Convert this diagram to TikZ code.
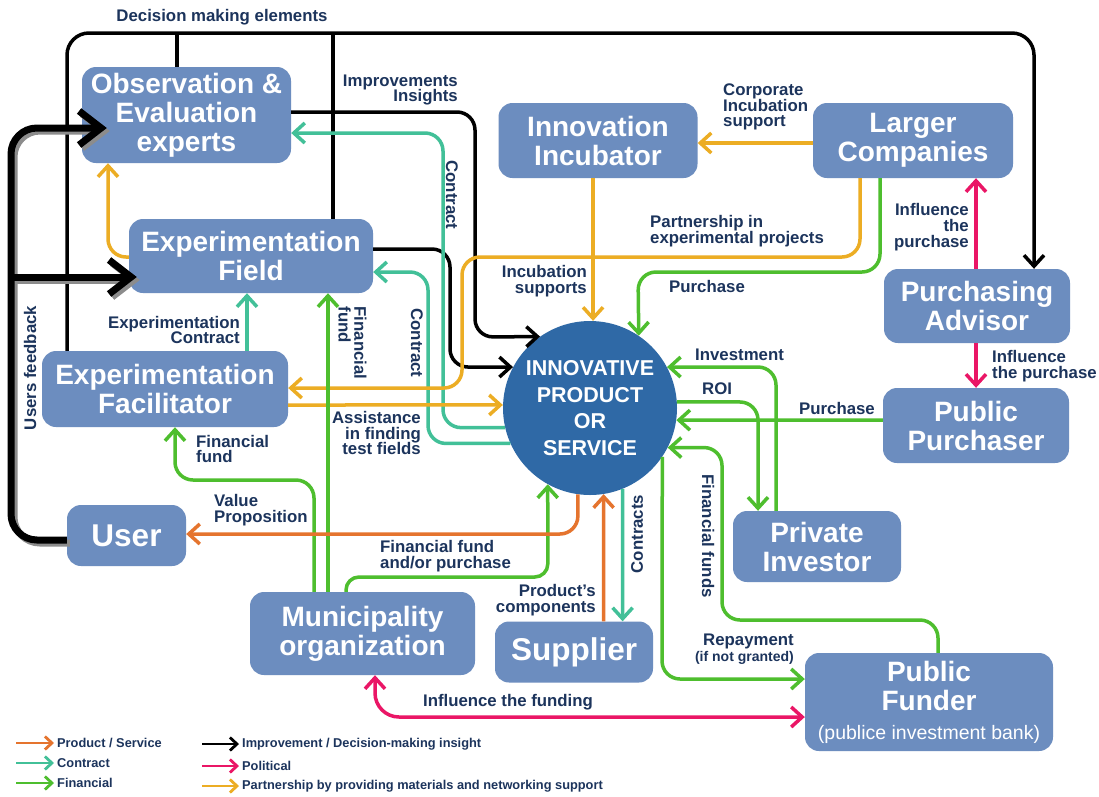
\documentclass[tikz,border=0pt]{standalone}
\usepackage{fontspec}
\setmainfont{Liberation Sans}
\usetikzlibrary{arrows.meta,calc}
\definecolor{boxblue}{RGB}{108,141,191}
\definecolor{circblue}{RGB}{47,105,166}
\definecolor{navy}{RGB}{28,52,92}
\definecolor{corange}{RGB}{229,116,46}
\definecolor{cteal}{RGB}{66,192,152}
\definecolor{cgreen}{RGB}{78,190,46}
\definecolor{cpink}{RGB}{234,22,102}
\definecolor{cyellow}{RGB}{236,173,36}
\definecolor{shadowgray}{RGB}{140,140,140}
\tikzset{
  ebox/.style={rectangle, rounded corners=14pt, fill=boxblue, text=white,
    font=\bfseries\fontsize{28}{29}\selectfont, align=center, inner sep=0pt},
  bigtxt/.style={font=\bfseries\fontsize{31.5}{32}\selectfont},
  lbl/.style={text=navy, font=\bfseries\fontsize{16.8}{15.8}\selectfont, inner sep=0pt},
  leg/.style={text=navy, font=\bfseries\fontsize{12.8}{13}\selectfont, inner sep=0pt},
  conn/.style={line width=3.5pt, rounded corners=18pt, -{Straight Barb[length=11pt,width=20pt]}},
  twoway/.style={line width=3.5pt, rounded corners=24pt, {Straight Barb[length=11pt,width=20pt]}-{Straight Barb[length=11pt,width=20pt]}},
  bline/.style={line width=3.5pt},
  thickarr/.style={line width=7pt, rounded corners=26pt, -{Straight Barb[length=22pt,width=34pt]}},
  legarr/.style={line width=2.8pt, -{Straight Barb[length=7pt,width=13pt]}}
}
\begin{document}
\begin{tikzpicture}[x=1pt,y=-1pt]
\fill[white] (0,0) rectangle (1099,796);
\useasboundingbox (0,0) rectangle (1099,796);

% ---------- nodes ----------
\node[ebox, minimum width=209pt, minimum height=96pt] (obs) at (186.5,115) {Observation \&\\Evaluation\\experts};
\node[ebox, minimum width=244pt, minimum height=74pt] (field) at (251,256) {Experimentation\\Field};
\node[ebox, minimum width=246pt, minimum height=76pt] (facil) at (165,389) {Experimentation\\Facilitator};
\node[ebox, bigtxt, minimum width=119pt, minimum height=61pt] (user) at (126.5,535.5) {User};
\node[ebox, minimum width=225pt, minimum height=83pt] (muni) at (362.5,633.5) {Municipality\\organization};
\node[ebox, bigtxt, minimum width=158pt, minimum height=61pt] (supp) at (574,652) {Supplier};
\node[ebox, minimum width=248pt, minimum height=98pt] (funder) at (929,702) {Public\\Funder\\{\mdseries\fontsize{19.5}{20}\selectfont(publice investment bank)}};
\node[ebox, minimum width=168pt, minimum height=71pt] (privinv) at (817,546.5) {Private\\Investor};
\node[ebox, minimum width=186pt, minimum height=75pt] (pubpur) at (976,425.5) {Public\\Purchaser};
\node[ebox, minimum width=186pt, minimum height=74pt] (advisor) at (977,306) {Purchasing\\Advisor};
\node[ebox, minimum width=200pt, minimum height=75pt] (larger) at (913,140.5) {Larger\\Companies};
\node[ebox, minimum width=199pt, minimum height=75pt] (incub) at (598,140.5) {Innovation\\Incubator};
\node[circle, fill=circblue, minimum size=174pt, inner sep=0pt, text=white, align=center,
  font=\bfseries\fontsize{21.5}{26.7}\selectfont] (ips) at (590,408) {INNOVATIVE\\PRODUCT\\OR\\SERVICE};

% ---------- black: decision making / improvements ----------
\draw[bline] (177,0 |- obs.north) -- (177,33);
\draw[bline] (333,0 |- field.north) -- (333,33);
\draw[conn, black, rounded corners=22pt] (67,0 |- facil.north) -- (67,33) -- (1034,33) -- (1034,0 |- advisor.north);
\draw[conn, black] (obs.east |- 0,112) -- (475,112) -- (475,337) -- (ips.125);
\draw[conn, black] (field.east |- 0,249) -- (450,249) -- (450,367) -- (ips.152);

% ---------- teal: contracts ----------
\draw[conn, cteal] (ips.193) -- (443,0 |- ips.193) -- (443,133) -- (obs.east |- 0,133);
\draw[conn, cteal] (ips.204) -- (428,0 |- ips.204) -- (428,272) -- (field.east |- 0,272);
\draw[conn, cteal] (247,0 |- facil.north) -- (247,0 |- field.south);
\draw[conn, cteal] (ips.-68) -- (622.6,0 |- supp.north);

% ---------- yellow: partnership ----------
\draw[conn, cyellow] (field.west |- 0,257) -- (108,257) -- (108,0 |- obs.south);
\draw[conn, cyellow] (860,0 |- larger.south) -- (860,257) -- (462,257) -- (462,388) -- (facil.east |- 0,388);
\draw[conn, cyellow] (facil.east |- 0,405) -- (ips.178);
\draw[conn, cyellow] (ips.88 |- incub.south) -- (ips.88);
\draw[conn, cyellow] (larger.west |- 0,143) -- (incub.east |- 0,143);

% ---------- green: financial ----------
\draw[conn, cgreen] (880,0 |- larger.south) -- (880,272) -- (638,272) -- (ips.56.5);
\draw[conn, cgreen] (776,0 |- privinv.north) -- (776,367) -- (ips.28);
\draw[conn, cgreen] (ips.4) -- (758,402) -- (758,0 |- privinv.north);
\draw[conn, cgreen] (pubpur.west |- 0,420) -- (ips.-8);
\draw[conn, cgreen] (938,0 |- funder.north) -- (938,620) -- (722,620) -- (722,447.5) -- (ips.-27);
\draw[conn, cgreen] (ips.-34) -- (662,679) -- (funder.west |- 0,679);
\draw[conn, cgreen, rounded corners=13pt] (346,0 |- muni.north) -- (346,577) -- (547.8,577) -- (ips.241);
\draw[conn, cgreen] (328,0 |- muni.north) -- (328,0 |- field.south);
\draw[conn, cgreen] (314,0 |- muni.north) -- (314,480) -- (175,480) -- (175,0 |- facil.south);

% ---------- orange: product / service ----------
\draw[conn, corange] (603.6,0 |- supp.north) -- (ips.-81);
\draw[conn, corange] (ips.262) -- (577.9,534) -- (user.east |- 0,534);

% ---------- pink: political ----------
\draw[conn, cpink] (976,0 |- advisor.north) -- (976,0 |- larger.south);
\draw[conn, cpink] (976,0 |- advisor.south) -- (976,0 |- pubpur.north);
\draw[twoway, cpink] (funder.west |- 0,717) -- (375,717) -- (375,0 |- muni.south);

% ---------- thick black: users feedback ----------
\draw[thickarr, shadowgray, transform canvas={xshift=3pt,yshift=-3pt}] (user.west |- 0,540) -- (11,540) -- (11,128) -- ($(obs.west |- 0,128)+(25,0)$);
\draw[thickarr, shadowgray, rounded corners=0pt, transform canvas={xshift=3pt,yshift=-3pt}] (11,277) -- ($(field.west |- 0,277)+(8,0)$);
\draw[thickarr, black] (user.west |- 0,540) -- (11,540) -- (11,128) -- ($(obs.west |- 0,128)+(25,0)$);
\draw[thickarr, black, rounded corners=0pt] (11,277) -- ($(field.west |- 0,277)+(8,0)$);

% ---------- labels ----------
\node[lbl] (dme) at (222,17) {Decision making elements};
\node[lbl, align=right, anchor=east] (impr) at (458,90) {Improvements\\Insights};
\node[lbl, rotate=-90] (ctr1) at (452,195) {Contract};
\node[lbl, rotate=-90] (ctr2) at (417,343) {Contract};
\node[lbl, rotate=-90, align=left] (ff1) at (352.5,343) {Financial\\fund};
\node[lbl, align=right, anchor=east] (expc) at (240,330) {Experimentation\\Contract};
\node[lbl, rotate=90] (ufb) at (30,368) {Users feedback};
\node[lbl, align=right, anchor=east] (asst) at (421,433) {Assistance\\in finding\\test fields};
\node[lbl, align=left, anchor=west] (ff2) at (196,449) {Financial\\fund};
\node[lbl, align=left, anchor=west] (vp) at (214,510) {Value\\Proposition};
\node[lbl, align=left, anchor=west] (ffp) at (380,556) {Financial fund\\and/or purchase};
\node[lbl, align=right, anchor=east] (pc) at (596,600) {Product’s\\components};
\node[lbl, rotate=90] (ctrs) at (637,534) {Contracts};
\node[lbl] (inff) at (508,702) {Influence the funding};
\node[lbl, anchor=east] (rep) at (794,641) {Repayment};
\node[lbl, anchor=east, font=\bfseries\fontsize{14}{14}\selectfont] (ing) at (794,658) {(if not granted)};
\node[lbl, rotate=-90] (ffs) at (708,536) {Financial funds};
\node[lbl, anchor=west] (inv) at (695,355) {Investment};
\node[lbl, anchor=west] (roi) at (702,389) {ROI};
\node[lbl, anchor=east] (pur2) at (875,408) {Purchase};
\node[lbl, anchor=west] (pur1) at (669,286) {Purchase};
\node[lbl, align=right, anchor=east] (incs) at (587,281) {Incubation\\supports};
\node[lbl, align=left, anchor=west] (part) at (650,231) {Partnership in\\experimental projects};
\node[lbl, align=left, anchor=west] (corp) at (723,107) {Corporate\\Incubation\\support};
\node[lbl, align=right, anchor=east] (ip1) at (969,227) {Influence\\the\\purchase};
\node[lbl, align=left, anchor=west] (ip2) at (992,366) {Influence\\the purchase};

% ---------- legend ----------
\node[leg, anchor=west] (lg1) at (57,743) {Product / Service};
\node[leg, anchor=west] (lg2) at (57,763) {Contract};
\node[leg, anchor=west] (lg3) at (57,783) {Financial};
\node[leg, anchor=west] (lg4) at (242,744) {Improvement / Decision-making insight};
\node[leg, anchor=west] (lg5) at (242,766) {Political};
\node[leg, anchor=west] (lg6) at (242,786) {Partnership by providing materials and networking support};
\draw[legarr, corange] ($(lg1.west)+(-41,0)$) -- ($(lg1.west)+(-3,0)$);
\draw[legarr, cteal] ($(lg2.west)+(-41,0)$) -- ($(lg2.west)+(-3,0)$);
\draw[legarr, cgreen] ($(lg3.west)+(-41,0)$) -- ($(lg3.west)+(-3,0)$);
\draw[legarr, black] ($(lg4.west)+(-40,0)$) -- ($(lg4.west)+(-3,0)$);
\draw[legarr, cpink] ($(lg5.west)+(-40,0)$) -- ($(lg5.west)+(-3,0)$);
\draw[legarr, cyellow] ($(lg6.west)+(-40,0)$) -- ($(lg6.west)+(-3,0)$);
\end{tikzpicture}
\end{document}
